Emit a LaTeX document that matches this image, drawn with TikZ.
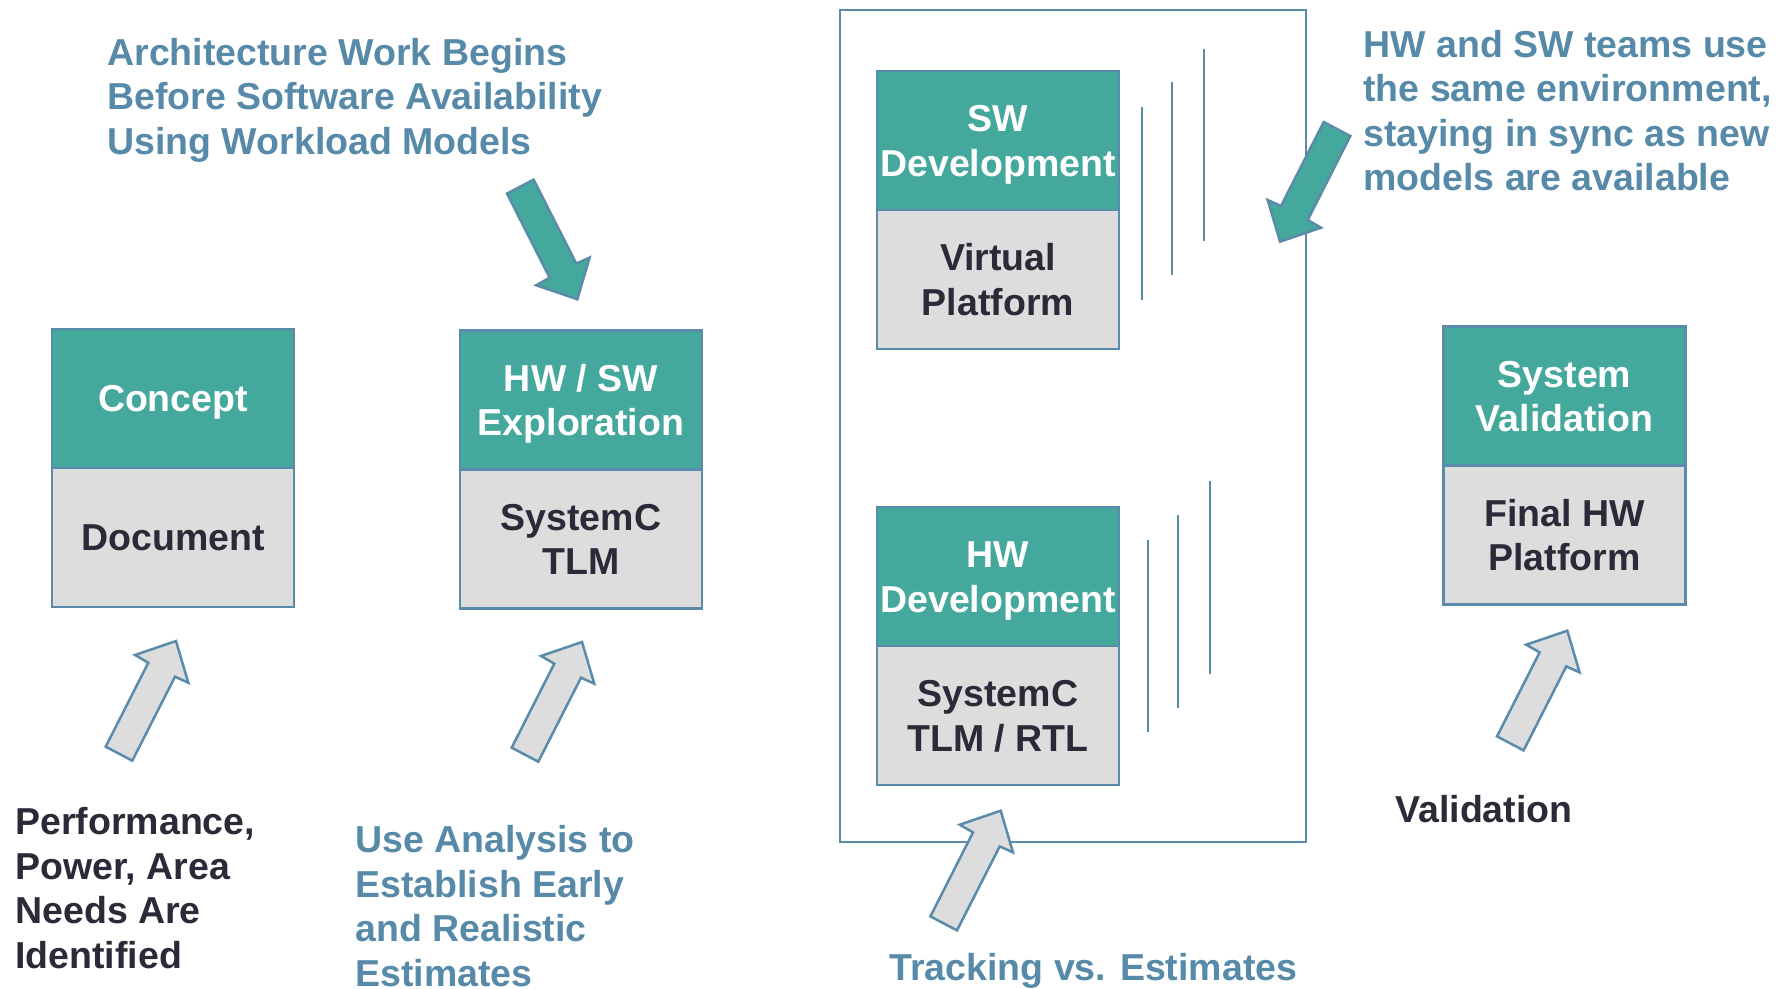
\documentclass[tikz,border=0pt]{standalone}
\usepackage{fontspec}
\setmainfont{Liberation Sans}
\usetikzlibrary{positioning}

\definecolor{tealhead}{HTML}{45A89C}
\definecolor{panel}{HTML}{DDDDDD}
\definecolor{edge}{HTML}{5A8BAA}
\definecolor{steel}{HTML}{568AA8}
\definecolor{ink}{HTML}{2A2A38}

% label font and a strut that keeps every line the same height
\newcommand\lblfont{\fontsize{18.75pt}{22.25pt}\selectfont\bfseries}
\newcommand\lstrut{\rule[-4.2pt]{0pt}{21.8pt}}

\tikzset{
  head/.style={draw=edge, line width=1.25pt, fill=tealhead, text=white,
    minimum width=121pt, minimum height=69.5pt, inner sep=0pt, outer sep=0pt,
    font=\lblfont, align=center},
  body/.style={head, fill=panel, text=ink},
  note/.style={font=\lblfont, text=steel, align=left, inner sep=0pt, anchor=north west},
  darknote/.style={note, text=ink},
  frame/.style={draw=edge, line width=1pt},
  guide/.style={draw=edge, line width=1pt},
  grayarrow/.style={fill=panel, draw=edge, line width=1.25pt, line join=miter},
  tealarrow/.style={fill=tealhead, draw=edge, line width=1.25pt, line join=miter},
  blockarrow/.pic={
    \draw[pic actions] (0,0) -- (12.3,41.7) -- (-1,35.7) -- (-43.7,119.7)
      -- (-70.3,105.7) -- (-27.7,21.7) -- (-41,14) -- cycle;
  }
}

\begin{document}
\begin{tikzpicture}[x=0.5pt,y=-0.5pt]
\useasboundingbox (0,0) rectangle (1788,989);

% enclosing frame of the parallel development phase
\draw[frame] (840,10) rectangle (1306,841.6);

% stage boxes: coloured title over grey platform
\node[head] (concept) at (173,398.5) {\lstrut Concept};
\node[body, below=0pt of concept] (doc) {\lstrut Document};

\node[head] (explore) at (581,400) {\lstrut HW / SW\\\lstrut Exploration};
\node[body, below=0pt of explore] (tlm) {\lstrut SystemC\\\lstrut TLM};

\node[head] (swdev) at (998,140.5) {\lstrut SW\\\lstrut Development};
\node[body, below=0pt of swdev] (vp) {\lstrut Virtual\\\lstrut Platform};

\node[head] (hwdev) at (998,576.5) {\lstrut HW\\\lstrut Development};
\node[body, below=0pt of hwdev] (rtl) {\lstrut SystemC\\\lstrut TLM / RTL};

\node[head] (sysval) at (1564.5,396) {\lstrut System\\\lstrut Validation};
\node[body, below=0pt of sysval] (hwplat) {\lstrut Final HW\\\lstrut Platform};

% staggered lines beside the development boxes
\draw[guide] (1142,107) -- (1142,300);
\draw[guide] (1172,82) -- (1172,275);
\draw[guide] (1204,49) -- (1204,241);
\draw[guide] (1148,540) -- (1148,732);
\draw[guide] (1178,515) -- (1178,708);
\draw[guide] (1210,481) -- (1210,674);

% block arrows
\pic[tealarrow, yscale=-1] at (577.3,299.3) {blockarrow};
\pic[tealarrow, rotate=180] at (1280,241.7) {blockarrow};
\pic[grayarrow] at (176,641) {blockarrow};
\pic[grayarrow] at (582,642) {blockarrow};
\pic[grayarrow] at (1000.7,810.7) {blockarrow};
\pic[grayarrow] at (1567.3,630.7) {blockarrow};

% annotations
\node[note] (arch) at (107,29.5)
  {\lstrut Architecture Work Begins\\\lstrut Before Software Availability\\\lstrut Using Workload Models};
\node[note] (sync) at (1363,21.5)
  {\lstrut HW and SW teams use\\\lstrut the same environment,\\\lstrut staying in sync as new\\\lstrut models are available};
\node[darknote] (ppa) at (15,799)
  {\lstrut Performance,\\\lstrut Power, Area\\\lstrut Needs Are\\\lstrut Identified};
\node[note] (est) at (355,817)
  {\lstrut Use Analysis to\\\lstrut Establish Early\\\lstrut and Realistic\\Estimates};
\node[note] (track) at (889,945) {\lstrut Tracking vs. Estimates};
\node[darknote] (valid) at (1395,787) {\lstrut Validation};
\end{tikzpicture}
\end{document}
